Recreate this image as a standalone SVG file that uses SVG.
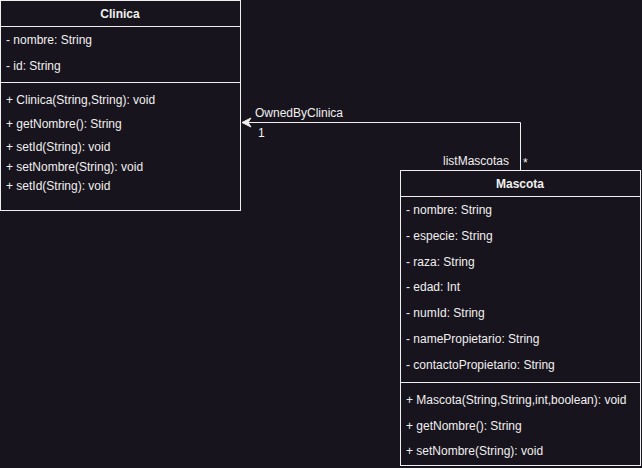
<svg xmlns="http://www.w3.org/2000/svg" width="642" height="468" viewBox="0 0 642 468">
<style>
.bg{fill:#18141d}
.box{fill:#18141d;stroke:#f0f0f0;stroke-width:1}
.ln{stroke:#f0f0f0;stroke-width:1;fill:none}
text{font-family:"Liberation Sans",Arial,sans-serif;font-size:12px;fill:#f0f0f0}
.t{font-weight:bold;text-anchor:middle}
</style>
<defs>
<marker id="open" markerWidth="12" markerHeight="12" refX="10" refY="6" orient="auto" markerUnits="userSpaceOnUse">
<path d="M1,1.5 L10,6 L1,10.5 L4,6 Z" fill="#f0f0f0" stroke="#f0f0f0" stroke-width="1" stroke-linejoin="miter"/>
</marker>
</defs>
<rect class="bg" x="0" y="0" width="642" height="468"/>
<g id="Clinica">
<rect class="box" x="0.5" y="0.5" width="240" height="210"/>
<line class="ln" x1="0.5" y1="26.5" x2="240.5" y2="26.5"/>
<line class="ln" x1="0.5" y1="82.5" x2="240.5" y2="82.5"/>
<text class="t" x="120" y="18">Clinica</text>
<text x="6" y="44">- nombre: String</text>
<text x="6" y="70">- id: String</text>
<text x="6" y="104">+ Clinica(String,String): void</text>
<text x="6" y="128">+ getNombre(): String</text>
<text x="6" y="151">+ setId(String): void</text>
<text x="6" y="171">+ setNombre(String): void</text>
<text x="6" y="190">+ setId(String): void</text>
</g>
<g id="Mascota">
<rect class="box" x="400.5" y="170.5" width="240" height="295"/>
<line class="ln" x1="400.5" y1="196.5" x2="640.5" y2="196.5"/>
<line class="ln" x1="400.5" y1="382.5" x2="640.5" y2="382.5"/>
<text class="t" x="520" y="188">Mascota</text>
<text x="406" y="214">- nombre: String</text>
<text x="406" y="240">- especie: String</text>
<text x="406" y="266">- raza: String</text>
<text x="406" y="291">- edad: Int</text>
<text x="406" y="317">- numId: String</text>
<text x="406" y="343">- namePropietario: String</text>
<text x="406" y="369">- contactoPropietario: String</text>
<text x="406" y="404">+ Mascota(String,String,int,boolean): void</text>
<text x="406" y="430">+ getNombre(): String</text>
<text x="406" y="455">+ setNombre(String): void</text>
</g>
<g id="connectors">
<path class="ln" d="M520.5,170 L520.5,122.5 L242,122.5" marker-end="url(#open)"/>
<text x="255" y="117">OwnedByClinica</text>
<text x="258" y="137">1</text>
<text x="443" y="165">listMascotas</text>
<text x="523" y="167">*</text>
</g>
</svg>
